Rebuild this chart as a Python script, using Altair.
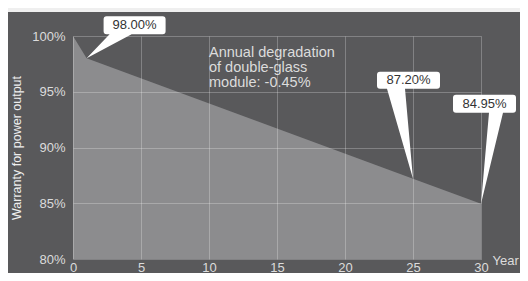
import altair as alt
import pandas as pd

# ---- data ----
years = [0, 1, 25, 30]
warranty = [100.0, 98.0, 87.2, 84.95]

callout_years = [1, 25, 30]
callout_values = [98.0, 87.2, 84.95]
callout_labels = ["98.00%", "87.20%", "84.95%"]

y_ticks = [80, 85, 90, 95, 100]
x_ticks = [0, 5, 10, 15, 20, 25, 30]

note_lines = ["Annual degradation", "of double-glass", "module: -0.45%"]

df = pd.DataFrame({"year": years, "value": warranty})
cdf = pd.DataFrame({"year": callout_years, "value": callout_values, "label": callout_labels})

W, H = 408, 223
PAD = {"left": 65, "top": 28, "right": 39, "bottom": 14}

xs = alt.Scale(domain=[0, 30], nice=False, zero=False)
ys = alt.Scale(domain=[80, 100], nice=False, zero=False)

DARK = "#59595b"
AREA = "#8c8c8e"
LBL = "#dcdcdc"
FONT = "Liberation Sans"


def callout_path(bx0, bx1, by0, by1, px0, px1, r=3):
    return (
        f"M{bx0 + r},{by0} L{bx1 - r},{by0} Q{bx1},{by0} {bx1},{by0 + r} "
        f"L{bx1},{by1 - r} Q{bx1},{by1} {bx1 - r},{by1} "
        f"L{px1},{by1} L0,0 L{px0},{by1} "
        f"L{bx0 + r},{by1} Q{bx0},{by1} {bx0},{by1 - r} "
        f"L{bx0},{by0 + r} Q{bx0},{by0} {bx0 + r},{by0} Z"
    )


# decorative dark panel behind the plot
panel = alt.Chart(df).mark_rect(color=DARK).encode(
    x=alt.value(-PAD["left"]),
    x2=alt.value(W + PAD["right"]),
    y=alt.value(-PAD["top"] + 4),
    y2=alt.value(H + PAD["bottom"]),
)

area = alt.Chart(df).mark_area(color=AREA, opacity=1, line=False).encode(
    x=alt.X(
        "year:Q",
        scale=xs,
        axis=alt.Axis(
            values=x_ticks,
            grid=True,
            gridColor="white",
            gridOpacity=0.25,
            gridWidth=1,
            domain=False,
            ticks=False,
            labelColor=LBL,
            labelFont=FONT,
            labelFontSize=13,
            labelPadding=2,
            labelBaseline="top",
            labelFlush=False,
            title="Year",
            titleColor=LBL,
            titleFont=FONT,
            titleFontSize=13,
            titleFontWeight="normal",
            titleX=W + 11,
            titleY=1,
            titleAlign="left",
            titleBaseline="middle",
            titleAnchor=None,
            zindex=1,
        ),
    ),
    y=alt.Y(
        "value:Q",
        scale=ys,
        axis=alt.Axis(
            values=y_ticks,
            labelExpr="datum.value + '%'",
            grid=True,
            gridColor="white",
            gridOpacity=0.25,
            gridWidth=1,
            domain=False,
            ticks=False,
            labelColor=LBL,
            labelFont=FONT,
            labelFontSize=13,
            labelPadding=8,
            labelFlush=False,
            title="Warranty for power output",
            titleColor="#eeeeee",
            titleFont=FONT,
            titleFontSize=12.5,
            titleFontWeight="normal",
            titleAngle=-90,
            titleX=-57,
            titleY=H / 2,
            titleAlign="center",
            titleBaseline="middle",
            zindex=1,
        ),
    ),
    y2=alt.datum(80),
)

# callout geometry (pixel offsets relative to the data point)
shapes = {
    "98.00%": (callout_path(17, 79, -42, -24, 23, 45), 48, -33),
    "87.20%": (callout_path(-36, 27, -107, -90, -26, -8), -4.5, -98.5),
    "84.95%": (callout_path(-28, 35, -109, -91, 8, 22), 3.5, -100),
}

callouts = []
for lab in callout_labels:
    path, dx, dy = shapes[lab]
    base = alt.Chart(cdf).transform_filter(alt.datum.label == lab)
    callouts.append(
        base.mark_point(shape=path, size=4, filled=True, fill="white", opacity=1, strokeWidth=0).encode(
            x=alt.X("year:Q", scale=xs), y=alt.Y("value:Q", scale=ys)
        )
    )
    callouts.append(
        base.mark_text(
            dx=dx, dy=dy, font=FONT, fontSize=13, color="#333333", align="center", baseline="middle"
        ).encode(x=alt.X("year:Q", scale=xs), y=alt.Y("value:Q", scale=ys), text="label:N")
    )

note = alt.Chart(pd.DataFrame({"t": [note_lines]})).mark_text(
    font=FONT, fontSize=14.5, lineHeight=15, color=LBL, align="left", baseline="top"
).encode(x=alt.datum(10), y=alt.datum(99.1), text="t")

chart = (
    alt.layer(panel, area, note, *callouts)
    .properties(
        width=W,
        height=H,
        padding=PAD,
        autosize=alt.AutoSizeParams(type="none"),
        background="#efefef",
    )
    .configure_view(stroke=None)
)

chart.save("out.html", embed_options={"renderer": "svg", "actions": False})
